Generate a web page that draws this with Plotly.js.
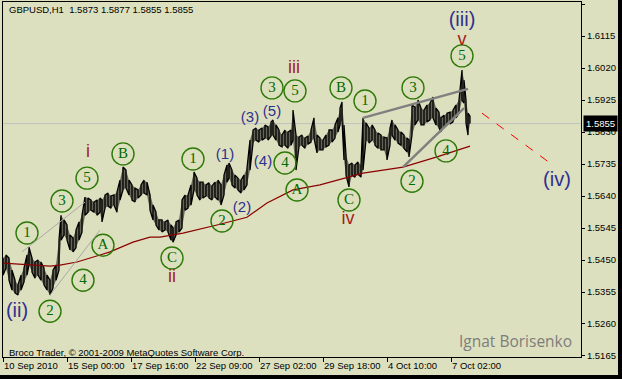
<!DOCTYPE html>
<html><head><meta charset="utf-8">
<script src="https://cdn.plot.ly/plotly-3.0.1.min.js"></script>
<style>html,body{margin:0;padding:0;background:#dde0be;overflow:hidden}#chart{width:622px;height:379px}</style>
</head><body><div id="chart"></div>
<script>
// H1 bars (bar index from the first visible bar), read as high/low envelope samples
const barIndex = [
0,3,6,9,12,15,18,21,24,26,
29,32,35,38,41,44,47,50,53,56,
58,61,64,67,70,73,76,79,82,85,
88,91,94,97,99,102,105,108,111,114,
117,120,123,126,129,132,135,138,141,144,
147,150,153,156,159,162,165,168,170,173,
176,179,182,185,188,191,194,197,200,203,
206,209,212,215,218,221,224,226,229,232,
235,238,241,244,247,250,253,256,259,262,
265,268,270,273,276,279,282,285,288,290,
293,296,299,302,305,308,311,314,317,320,
323,326,329,332,335,337,339,341,343,346,
349,352,355,358,360,363,366,369,372,375,
378,381,384,387,389,392,395,398,401,404,
406,409,412,415,418,421,424,427,430,433,
436,438,441,444,447,450,453,456,459,461,
463,465,467];
const barHigh = [
1.5456,1.5465,1.5456,1.5420,1.5390,1.5376,1.5405,1.5426,1.5465,1.5488,
1.5456,1.5444,1.5450,1.5444,1.5426,1.5405,1.5390,1.5420,1.5435,1.5509,
1.5583,1.5569,1.5554,1.5524,1.5515,1.5539,1.5563,1.5583,1.5637,1.5634,
1.5628,1.5622,1.5628,1.5634,1.5628,1.5643,1.5649,1.5640,1.5643,1.5652,
1.5687,1.5726,1.5717,1.5687,1.5673,1.5664,1.5658,1.5673,1.5687,1.5681,
1.5643,1.5613,1.5592,1.5569,1.5569,1.5563,1.5569,1.5554,1.5545,1.5563,
1.5569,1.5628,1.5643,1.5643,1.5673,1.5711,1.5693,1.5681,1.5681,1.5673,
1.5679,1.5670,1.5681,1.5687,1.5673,1.5702,1.5732,1.5738,1.5717,1.5702,
1.5693,1.5687,1.5702,1.5723,1.5806,1.5836,1.5842,1.5836,1.5842,1.5851,
1.5845,1.5860,1.5866,1.5851,1.5836,1.5821,1.5836,1.5830,1.5836,1.5895,
1.5821,1.5815,1.5821,1.5812,1.5818,1.5836,1.5872,1.5821,1.5812,1.5806,
1.5821,1.5836,1.5836,1.5851,1.5872,1.5901,1.5919,1.5851,1.5762,1.5732,
1.5738,1.5732,1.5741,1.5732,1.5872,1.5857,1.5842,1.5851,1.5836,1.5827,
1.5821,1.5815,1.5812,1.5842,1.5866,1.5851,1.5836,1.5830,1.5821,1.5812,
1.5806,1.5910,1.5904,1.5925,1.5901,1.5895,1.5910,1.5916,1.5934,1.5901,
1.5889,1.5872,1.5880,1.5886,1.5889,1.5895,1.5910,1.5925,1.6014,1.5984,
1.5925,1.5886,1.5877];
const barLow = [
1.5405,1.5426,1.5390,1.5361,1.5352,1.5346,1.5361,1.5385,1.5405,1.5435,
1.5414,1.5396,1.5405,1.5390,1.5376,1.5361,1.5346,1.5367,1.5390,1.5420,
1.5509,1.5524,1.5509,1.5480,1.5474,1.5486,1.5509,1.5533,1.5583,1.5592,
1.5598,1.5592,1.5583,1.5592,1.5563,1.5604,1.5610,1.5604,1.5613,1.5592,
1.5628,1.5658,1.5664,1.5643,1.5628,1.5622,1.5634,1.5643,1.5649,1.5643,
1.5598,1.5569,1.5554,1.5539,1.5533,1.5539,1.5533,1.5509,1.5503,1.5524,
1.5533,1.5545,1.5598,1.5604,1.5613,1.5658,1.5643,1.5628,1.5634,1.5640,
1.5634,1.5628,1.5637,1.5628,1.5613,1.5643,1.5681,1.5693,1.5673,1.5664,
1.5658,1.5649,1.5658,1.5673,1.5717,1.5797,1.5806,1.5800,1.5806,1.5812,
1.5806,1.5818,1.5821,1.5806,1.5791,1.5786,1.5791,1.5782,1.5791,1.5806,
1.5717,1.5786,1.5791,1.5782,1.5794,1.5800,1.5812,1.5768,1.5777,1.5777,
1.5786,1.5791,1.5800,1.5812,1.5830,1.5851,1.5866,1.5747,1.5702,1.5667,
1.5702,1.5696,1.5705,1.5696,1.5717,1.5806,1.5797,1.5806,1.5791,1.5782,
1.5777,1.5777,1.5747,1.5791,1.5821,1.5806,1.5797,1.5791,1.5782,1.5771,
1.5756,1.5821,1.5851,1.5866,1.5851,1.5851,1.5860,1.5866,1.5872,1.5851,
1.5842,1.5830,1.5845,1.5851,1.5854,1.5860,1.5872,1.5886,1.5925,1.5916,
1.5857,1.5821,1.5855];

// moving average (dark red)
const maIndex = [0,30,47,57,74,97,107,130,147,157,180,214,244,264,290,317,347,360,400,434,467];
const maValue = [1.5441,1.5435,1.5432,1.5435,1.5444,1.5465,1.5474,1.5503,1.5518,1.5518,1.5530,1.5554,1.5577,1.5619,1.5658,1.5673,1.5699,1.5708,1.5726,1.5756,1.5788];

// axes
const xTickIndex = [0,64,128,192,256,320,384,448];
const xTickText = ['10 Sep 2010','15 Sep 00:00','17 Sep 16:00','22 Sep 09:00','27 Sep 02:00','29 Sep 18:00','4 Oct 10:00','7 Oct 02:00'];
const yTickValues = [1.6210,1.6115,1.6020,1.5925,1.5830,1.5735,1.5640,1.5545,1.5450,1.5355,1.5260,1.5165];
const lastPrice = 1.5855;
const headerText = 'GBPUSD,H1  1.5873 1.5877 1.5855 1.5855';

// wave labels
const circleText  = ['1','3','5','B','A','4','2','C','1','2','3','5','4','A','B','1','C','3','2','4','5'];
const circleIdx   = [24,59,84,120,100,80,47,169,190,219,269,292,282,294,338,362,346,410,409,443,459];
const circlePrice = [1.5530,1.5625,1.5693,1.5765,1.5494,1.5390,1.5298,1.5456,1.5750,1.5566,1.5961,1.5952,1.5738,1.5658,1.5961,1.5922,1.5628,1.5961,1.5684,1.5774,1.6056];
const romanText  = ['i','ii','iii','iv','v'];
const romanIdx   = [85,169,291,345,459];
const romanPrice = [1.5768,1.5399,1.6020,1.5569,1.6103];
const minorText  = ['(1)','(2)','(3)','(4)','(5)'];
const minorIdx   = [222,239,247,260,269];
const minorPrice = [1.5762,1.5604,1.5872,1.5741,1.5889];
const majorText  = ['(ii)','(iii)','(iv)'];
const majorIdx   = [14,459,554];
const majorPrice = [1.5295,1.6160,1.5684];

// trend lines [i0, p0, i1, p1]
const thinLines  = [[19,1.5474,82,1.5622],[47,1.5346,97,1.5539]];
const thickLines = [[360,1.5872,465,1.5958],[400,1.5726,461,1.5901]];
const forecastLine = [479,1.5886,547,1.5738];

// ribbon polyline through highs and lows
const rx = [], ry = [];
barIndex.forEach((x,i)=>{
  rx.push(x,x);
  if(i%2===0) ry.push(barHigh[i],barLow[i]); else ry.push(barLow[i],barHigh[i]);
});

const sans = 'Tahoma, "Liberation Sans", Arial, sans-serif';
const serif = '"Liberation Serif", "Times New Roman", serif';
const traces = [
  {x:barIndex,y:barHigh,mode:'lines',line:{width:0,color:'black'},hoverinfo:'skip'},
  {x:barIndex,y:barLow,mode:'lines',line:{width:0,color:'black'},fill:'tonexty',fillcolor:'rgba(0,0,0,0.55)',hoverinfo:'skip'},
  {x:rx,y:ry,mode:'lines',line:{width:1.3,color:'black'},hoverinfo:'skip'},
  {x:maIndex,y:maValue,mode:'lines',line:{width:1.2,color:'#8b0000'},hoverinfo:'skip'},
  {x:circleIdx,y:circlePrice,text:circleText,mode:'markers+text',textposition:'middle center',
   marker:{size:22,color:'rgba(0,0,0,0)',line:{width:1.4,color:'#2d7a08'}},
   textfont:{family:serif,size:15,color:'#006b00'},cliponaxis:false},
  {x:romanIdx,y:romanPrice,text:romanText,mode:'text',textposition:'middle center',
   textfont:{family:sans,size:18,color:'#a01e1e'},cliponaxis:false},
  {x:minorIdx,y:minorPrice,text:minorText,mode:'text',textposition:'middle center',
   textfont:{family:sans,size:15,color:'#30308f'},cliponaxis:false},
  {x:majorIdx,y:majorPrice,text:majorText,mode:'text',textposition:'middle center',
   textfont:{family:sans,size:20,color:'#30308f'},cliponaxis:false}
];

const shapes = [
  {type:'line',xref:'paper',x0:0,x1:1,yref:'y',y0:lastPrice,y1:lastPrice,line:{color:'#c0c0c0',width:1},layer:'below'}
];
thinLines.forEach(l=>shapes.push({type:'line',xref:'x',yref:'y',x0:l[0],y0:l[1],x1:l[2],y1:l[3],line:{color:'#a8a8a8',width:1}}));
thickLines.forEach(l=>shapes.push({type:'line',xref:'x',yref:'y',x0:l[0],y0:l[1],x1:l[2],y1:l[3],line:{color:'#808080',width:2.5}}));
shapes.push({type:'line',xref:'x',yref:'y',x0:forecastLine[0],y0:forecastLine[1],x1:forecastLine[2],y1:forecastLine[3],line:{color:'#ff0000',width:1,dash:'dash'}});
// window frame (black strips right and bottom)
shapes.push({type:'rect',xref:'paper',yref:'paper',x0:1.064,x1:1.08,y0:-0.1,y1:1.1,fillcolor:'black',line:{width:0}});
shapes.push({type:'rect',xref:'paper',yref:'paper',x0:-0.02,x1:1.08,y0:-0.1,y1:-0.0507,fillcolor:'black',line:{width:0}});

const annotations = [
  {xref:'paper',yref:'paper',x:0.0069,y:0.9775,xanchor:'left',yanchor:'middle',text:headerText,showarrow:false,font:{family:sans,size:9.5,color:'black'}},
  {xref:'paper',yref:'paper',x:0.0069,y:0.0113,xanchor:'left',yanchor:'middle',text:'Broco Trader, © 2001-2009 MetaQuotes Software Corp.',showarrow:false,font:{family:sans,size:9.5,color:'black'}},
  {xref:'paper',yref:'paper',x:0.8875,y:0.045,xanchor:'center',yanchor:'middle',text:'Ignat Borisenko',showarrow:false,font:{family:'"Open Sans", sans-serif',size:15.5,color:'#7d7d7d'}},
  {xref:'paper',yref:'y',x:1.0035,y:lastPrice,xanchor:'left',yanchor:'middle',text:lastPrice.toFixed(4),showarrow:false,bgcolor:'black',borderpad:2,font:{family:sans,size:9.5,color:'white'}}
];

const layout = {
  width:622,height:379,margin:{l:3,r:41,t:2,b:22,pad:0},
  paper_bgcolor:'#dde0be',plot_bgcolor:'#dde0be',showlegend:false,hovermode:false,
  xaxis:{range:[0,578],tickvals:xTickIndex,ticktext:xTickText,ticks:'outside',ticklen:4,tickcolor:'black',tickangle:0,
    ticklabelposition:'outside right',showline:true,mirror:true,linecolor:'black',linewidth:1,showgrid:false,zeroline:false,
    tickfont:{family:sans,size:9.5,color:'black'},automargin:false,fixedrange:true},
  yaxis:{range:[1.5162,1.6216],side:'right',tickvals:yTickValues,ticktext:yTickValues.map(v=>v.toFixed(4)),ticks:'outside',ticklen:3,tickcolor:'black',
    showline:true,mirror:true,linecolor:'black',linewidth:1,showgrid:false,zeroline:false,
    tickfont:{family:sans,size:9.5,color:'black'},automargin:false,fixedrange:true},
  shapes:shapes,annotations:annotations
};
Plotly.newPlot('chart',traces,layout,{displayModeBar:false,staticPlot:true});
</script></body></html>
